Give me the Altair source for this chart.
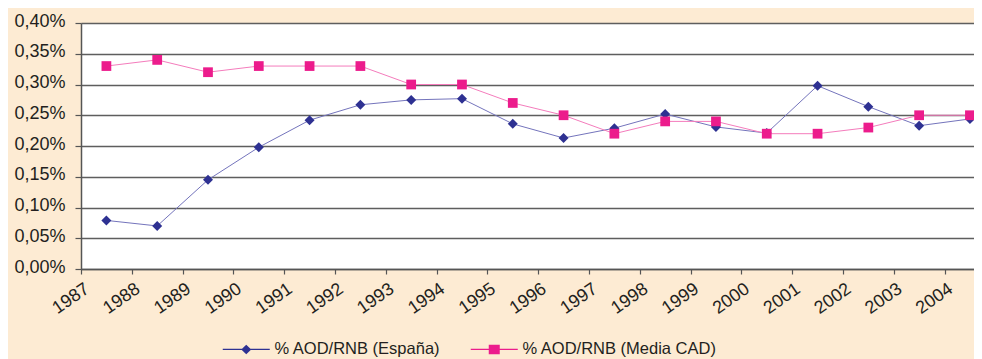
import altair as alt
import pandas as pd

years = list(range(1987, 2005))
espana = [0.079, 0.070, 0.145, 0.198, 0.242, 0.267, 0.275, 0.277, 0.236, 0.213,
          0.229, 0.252, 0.231, 0.221, 0.298, 0.264, 0.233, 0.244]
media_cad = [0.33, 0.34, 0.32, 0.33, 0.33, 0.33, 0.30, 0.30, 0.27, 0.25,
             0.22, 0.24, 0.24, 0.22, 0.22, 0.23, 0.25, 0.25]
series_names = ["% AOD/RNB (España)", "% AOD/RNB (Media CAD)"]
y_ticks = [0.0, 0.05, 0.10, 0.15, 0.20, 0.25, 0.30, 0.35, 0.40]

marker_colors = ["#2E3192", "#EC1C8C"]
line_colors = ["#7474BC", "#F47CBC"]
legend_shapes = [
    "M-4.7,-0.12H4.7V0.12H-4.7Z M-1,0L0,-0.95L1,0L0,0.95Z",
    "M-4.7,-0.12H4.7V0.12H-4.7Z M-1.1,-0.95H1.1V0.95H-1.1Z",
]

rows = []
for yr, e, c in zip(years, espana, media_cad):
    rows.append({"anio": yr, "pos": yr + 0.5, "serie": series_names[0], "valor": e})
    rows.append({"anio": yr, "pos": yr + 0.5, "serie": series_names[1], "valor": c})
df = pd.DataFrame(rows)

FONT = "Arial"
TXT = "#231F20"
AX = "#555555"

x_enc = alt.X(
    "pos:Q",
    scale=alt.Scale(domain=[1987, 2004.58], nice=False, zero=False),
    axis=alt.Axis(
        values=years, format="d", title=None, grid=False,
        labelAngle=-35, labelAlign="right", labelBaseline="middle",
        labelOffset=6, labelPadding=13, labelOverlap=False,
        labelFontSize=18, labelFont=FONT, labelColor=TXT,
        tickSize=5, tickColor=AX, domainColor=AX, domainWidth=1.5, tickWidth=1.2,
    ),
)
y_enc = alt.Y(
    "valor:Q",
    scale=alt.Scale(domain=[0, 0.40], nice=False),
    axis=alt.Axis(
        values=y_ticks, title=None,
        labelExpr="replace(format(datum.value, '.2f'), '.', ',') + '%'",
        labelFontSize=18, labelFont=FONT, labelColor=TXT, labelPadding=10,
        labelOffset=-2,
        tickSize=6, tickColor=AX, domainColor=AX, domainWidth=1.5, tickWidth=1.2,
        grid=True, gridColor="#5E5E5E", gridWidth=1.3,
    ),
)

base = alt.Chart(df)

layers = []
for name, lc, mc, shp, sz in zip(series_names, line_colors, marker_colors,
                                 ["diamond", "square"], [100, 95]):
    sub = base.transform_filter(alt.datum.serie == name)
    layers.append(sub.mark_line(strokeWidth=1, color=lc).encode(x=x_enc, y=y_enc))
    layers.append(sub.mark_point(shape=shp, filled=True, size=sz, color=mc, opacity=1)
                  .encode(x=x_enc, y=y_enc))

leg = alt.Legend(
    title=None, orient="none", legendX=157, legendY=318, direction="horizontal",
    symbolSize=100, symbolStrokeWidth=0, labelFontSize=16.5, labelFont=FONT,
    labelColor=TXT, labelOffset=20, columnPadding=29, symbolOpacity=1,
    labelLimit=500,
)
legend_layer = base.mark_point(filled=True, opacity=0).encode(
    x=x_enc, y=y_enc,
    color=alt.Color("serie:N", scale=alt.Scale(domain=series_names, range=marker_colors), legend=leg),
    shape=alt.Shape("serie:N", scale=alt.Scale(domain=series_names, range=legend_shapes), legend=leg),
)
layers.append(legend_layer)

chart = alt.layer(*layers).properties(
    width=893, height=246,
    autosize=alt.AutoSizeParams(type="none"),
    padding={"left": 73, "top": 15, "right": 0, "bottom": 90},
).configure(background="#FDEBD3").configure_view(fill="white", stroke="transparent")

chart.save("out.html", embed_options={"renderer": "svg", "actions": False})
